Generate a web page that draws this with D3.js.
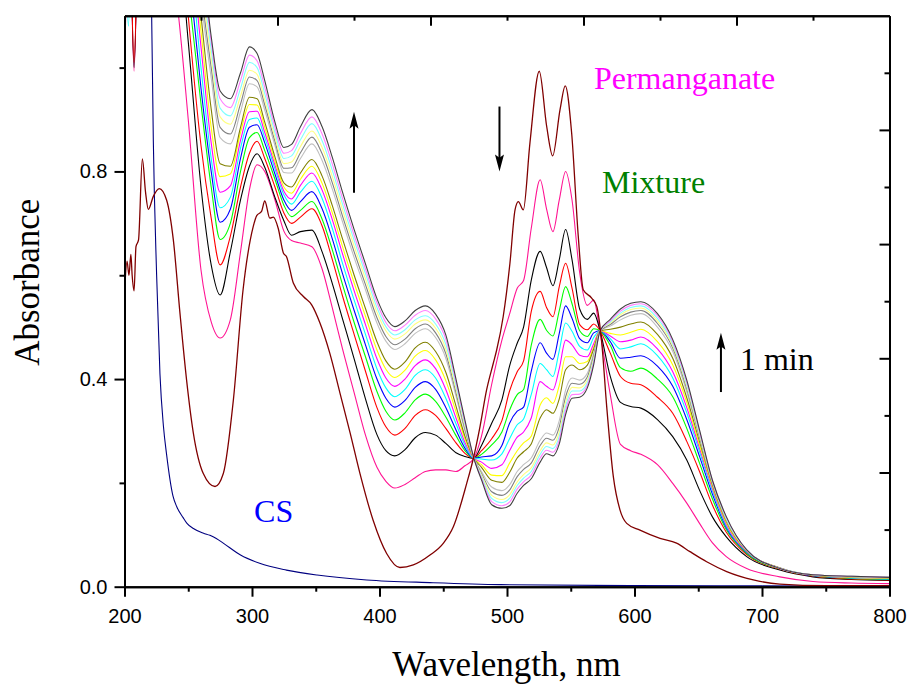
<!DOCTYPE html>
<html><head><meta charset="utf-8">
<script src="https://cdn.jsdelivr.net/npm/d3@7"></script>
<style>body{margin:0;background:#fff}svg{display:block}</style>
</head><body>
<svg id="chart" width="910" height="687"></svg>
<script>
// ---------- DATA ----------
const wavelengths = [
  200, 203, 207.5, 212, 240, 250, 260, 268, 275, 283, 291,
  298, 304, 310, 318, 325, 331, 338, 347,
  355, 363, 371, 380, 389, 398, 405, 412,
  420, 428, 436, 444, 452, 460, 467, 474,
  480, 488, 496, 502, 508, 513, 519, 526,
  531, 536, 541, 546, 551, 557, 563, 568,
  573, 581, 589, 597, 605,
  618, 630, 641, 651, 661, 672,
  688, 714, 740, 770, 800];

const mixPink = [
  1.4, 1.4, 0.993, 1.4, 1.15, 0.90, 0.61, 0.51, 0.479, 0.514, 0.645,
  0.765, 0.813, 0.80, 0.745, 0.685, 0.667, 0.662, 0.655,
  0.612, 0.537, 0.458, 0.375, 0.292, 0.23, 0.203, 0.19,
  0.197, 0.21, 0.222, 0.225, 0.225, 0.222, 0.233, 0.2475,
  0.29, 0.39, 0.475, 0.525, 0.575, 0.59, 0.69, 0.784,
  0.728, 0.684, 0.745, 0.80, 0.745, 0.605, 0.542, 0.552,
  0.49, 0.37, 0.274, 0.262, 0.255,
  0.235, 0.199, 0.161, 0.122, 0.085, 0.058,
  0.035, 0.019, 0.01, 0.007, 0.006];
const mixBlack = [
  1.4, 1.4, 1.0, 1.4, 1.3, 1.05, 0.77, 0.62, 0.562, 0.645, 0.745,
  0.81, 0.834, 0.808, 0.75, 0.705, 0.677, 0.684, 0.687,
  0.645, 0.584, 0.516, 0.44, 0.362, 0.293, 0.262, 0.252,
  0.264, 0.287, 0.297, 0.292, 0.276, 0.258, 0.251, 0.2475,
  0.272, 0.315, 0.36, 0.425, 0.469, 0.50, 0.59, 0.646,
  0.615, 0.58, 0.63, 0.688, 0.63, 0.535, 0.515, 0.527,
  0.493, 0.405, 0.355, 0.347, 0.344,
  0.322, 0.289, 0.244, 0.186, 0.135, 0.096,
  0.058, 0.032, 0.019, 0.014, 0.012];
const mixRed = [
  0.89, 1.4, 1.01, 1.4, 1.4, 1.10, 0.85, 0.71, 0.62, 0.675, 0.77,
  0.835, 0.858, 0.825, 0.77, 0.72, 0.70, 0.712, 0.728,
  0.695, 0.63, 0.56, 0.487, 0.415, 0.345, 0.308, 0.292,
  0.305, 0.33, 0.341, 0.33, 0.305, 0.277, 0.257, 0.2475,
  0.262, 0.285, 0.32, 0.377, 0.414, 0.435, 0.53, 0.569,
  0.538, 0.52, 0.578, 0.623, 0.575, 0.505, 0.495, 0.506,
  0.493, 0.45, 0.405, 0.392, 0.389,
  0.365, 0.334, 0.28, 0.222, 0.158, 0.105,
  0.062, 0.034, 0.02, 0.015, 0.013];
const mixGreen = [
  1.4, 1.4, 1.4, 1.4, 1.4, 1.15, 0.93, 0.77, 0.669, 0.70, 0.80,
  0.865, 0.875, 0.84, 0.785, 0.735, 0.713, 0.725, 0.742,
  0.708, 0.649, 0.582, 0.51, 0.443, 0.376, 0.338, 0.321,
  0.335, 0.36, 0.371, 0.357, 0.327, 0.291, 0.262, 0.2475,
  0.255, 0.273, 0.298, 0.34, 0.37, 0.38, 0.465, 0.515,
  0.494, 0.483, 0.532, 0.578, 0.545, 0.493, 0.482, 0.497,
  0.493, 0.465, 0.422, 0.415, 0.421,
  0.40, 0.366, 0.305, 0.238, 0.17, 0.11,
  0.064, 0.035, 0.021, 0.016, 0.014];
const mixBlue = [
  1.4, 1.4, 1.4, 1.4, 1.4, 1.2, 0.96, 0.80, 0.702, 0.727, 0.825,
  0.885, 0.89, 0.855, 0.795, 0.745, 0.725, 0.742, 0.761,
  0.728, 0.67, 0.603, 0.533, 0.466, 0.40, 0.363, 0.346,
  0.359, 0.384, 0.395, 0.38, 0.345, 0.302, 0.267, 0.2475,
  0.25, 0.252, 0.272, 0.315, 0.338, 0.346, 0.415, 0.47,
  0.45, 0.438, 0.488, 0.541, 0.517, 0.478, 0.47, 0.489,
  0.493, 0.472, 0.44, 0.442, 0.445,
  0.425, 0.386, 0.322, 0.251, 0.179, 0.114,
  0.066, 0.036, 0.021, 0.017, 0.015];
const mixCyan = [
  1.4, 1.08, 1.4, 1.4, 1.4, 1.25, 1.0, 0.825, 0.73, 0.75, 0.845,
  0.9, 0.903, 0.865, 0.805, 0.755, 0.737, 0.76, 0.781,
  0.748, 0.69, 0.623, 0.553, 0.486, 0.42, 0.383, 0.366,
  0.38, 0.407, 0.418, 0.402, 0.363, 0.314, 0.273, 0.2475,
  0.246, 0.244, 0.256, 0.285, 0.312, 0.323, 0.37, 0.43,
  0.418, 0.405, 0.455, 0.508, 0.492, 0.463, 0.456, 0.48,
  0.493, 0.478, 0.458, 0.462, 0.468,
  0.445, 0.402, 0.335, 0.26, 0.185, 0.117,
  0.067, 0.036, 0.022, 0.017, 0.015];
const mixMagenta = [
  0.9, 1.4, 1.4, 1.4, 1.4, 1.28, 1.04, 0.855, 0.76, 0.772, 0.86,
  0.915, 0.916, 0.875, 0.812, 0.762, 0.747, 0.773, 0.797,
  0.764, 0.707, 0.641, 0.571, 0.505, 0.439, 0.402, 0.386,
  0.40, 0.426, 0.437, 0.42, 0.38, 0.325, 0.278, 0.2475,
  0.24, 0.228, 0.235, 0.262, 0.288, 0.298, 0.325, 0.395,
  0.386, 0.379, 0.42, 0.475, 0.466, 0.446, 0.443, 0.468,
  0.493, 0.483, 0.472, 0.475, 0.481,
  0.458, 0.414, 0.345, 0.267, 0.19, 0.12,
  0.068, 0.036, 0.022, 0.018, 0.016];
const mixYellow = [
  1.08, 1.4, 1.4, 1.4, 1.4, 1.3, 1.07, 0.885, 0.79, 0.795, 0.875,
  0.929, 0.928, 0.885, 0.82, 0.77, 0.758, 0.785, 0.81,
  0.777, 0.72, 0.655, 0.586, 0.521, 0.456, 0.419, 0.403,
  0.417, 0.444, 0.455, 0.437, 0.397, 0.337, 0.285, 0.2475,
  0.235, 0.215, 0.214, 0.238, 0.262, 0.277, 0.29, 0.35,
  0.364, 0.353, 0.388, 0.443, 0.443, 0.43, 0.434, 0.462,
  0.493, 0.488, 0.485, 0.49, 0.496,
  0.472, 0.427, 0.355, 0.273, 0.194, 0.123,
  0.069, 0.036, 0.022, 0.018, 0.016];
const mixOlive = [
  1.4, 1.4, 1.4, 1.4, 1.4, 1.33, 1.1, 0.92, 0.815, 0.81, 0.885,
  0.943, 0.94, 0.895, 0.828, 0.778, 0.77, 0.797, 0.823,
  0.791, 0.734, 0.67, 0.601, 0.536, 0.472, 0.435, 0.419,
  0.433, 0.46, 0.471, 0.453, 0.413, 0.348, 0.29, 0.2475,
  0.23, 0.205, 0.201, 0.22, 0.248, 0.26, 0.275, 0.325,
  0.341, 0.334, 0.362, 0.418, 0.427, 0.418, 0.427, 0.458,
  0.493, 0.496, 0.50, 0.506, 0.51,
  0.486, 0.44, 0.364, 0.28, 0.197, 0.126,
  0.069, 0.036, 0.022, 0.019, 0.017];
const mixSilver = [
  1.4, 1.4, 1.4, 1.4, 1.4, 1.36, 1.13, 0.98, 0.865, 0.853, 0.915,
  0.969, 0.963, 0.918, 0.85, 0.798, 0.797, 0.825, 0.853,
  0.821, 0.766, 0.703, 0.635, 0.572, 0.508, 0.473, 0.457,
  0.468, 0.488, 0.497, 0.48, 0.44, 0.367, 0.30, 0.2475,
  0.222, 0.192, 0.185, 0.196, 0.222, 0.235, 0.248, 0.282,
  0.296, 0.292, 0.32, 0.379, 0.402, 0.398, 0.411, 0.45,
  0.493, 0.502, 0.514, 0.523, 0.526,
  0.50, 0.453, 0.375, 0.286, 0.20, 0.128,
  0.07, 0.036, 0.023, 0.019, 0.017];
const mixGray = [
  1.4, 1.4, 1.4, 1.4, 1.4, 1.38, 1.15, 1.0, 0.885, 0.872, 0.93,
  0.982, 0.975, 0.928, 0.858, 0.806, 0.807, 0.836, 0.866,
  0.834, 0.778, 0.714, 0.646, 0.582, 0.518, 0.482, 0.466,
  0.477, 0.497, 0.506, 0.489, 0.449, 0.374, 0.304, 0.2475,
  0.218, 0.183, 0.176, 0.186, 0.212, 0.226, 0.238, 0.272,
  0.286, 0.282, 0.308, 0.366, 0.392, 0.39, 0.404, 0.445,
  0.493, 0.505, 0.52, 0.529, 0.532,
  0.507, 0.46, 0.381, 0.289, 0.201, 0.13,
  0.07, 0.035, 0.023, 0.02, 0.018];
const mixLtYellow = [
  1.4, 1.4, 1.4, 1.4, 1.4, 1.4, 1.17, 1.02, 0.905, 0.891, 0.945,
  0.995, 0.987, 0.938, 0.866, 0.815, 0.818, 0.848, 0.878,
  0.846, 0.79, 0.726, 0.657, 0.593, 0.529, 0.493, 0.477,
  0.487, 0.506, 0.514, 0.498, 0.458, 0.381, 0.309, 0.2475,
  0.215, 0.176, 0.168, 0.177, 0.202, 0.216, 0.229, 0.262,
  0.277, 0.273, 0.298, 0.356, 0.384, 0.383, 0.398, 0.44,
  0.493, 0.508, 0.524, 0.534, 0.537,
  0.512, 0.464, 0.386, 0.292, 0.203, 0.131,
  0.07, 0.035, 0.023, 0.02, 0.018];
const mixLtCyan = [
  1.4, 1.4, 1.4, 1.4, 1.4, 1.4, 1.19, 1.035, 0.922, 0.907, 0.96,
  1.01, 1.0, 0.95, 0.875, 0.825, 0.83, 0.861, 0.892,
  0.859, 0.802, 0.737, 0.668, 0.603, 0.538, 0.501, 0.485,
  0.495, 0.514, 0.522, 0.506, 0.467, 0.388, 0.313, 0.2475,
  0.212, 0.17, 0.162, 0.17, 0.195, 0.209, 0.222, 0.255,
  0.27, 0.266, 0.29, 0.348, 0.377, 0.377, 0.393, 0.436,
  0.493, 0.51, 0.527, 0.538, 0.541,
  0.517, 0.468, 0.39, 0.296, 0.204, 0.132,
  0.071, 0.035, 0.023, 0.02, 0.018];
const mixLtMagenta = [
  1.4, 1.4, 1.4, 1.4, 1.4, 1.4, 1.21, 1.05, 0.94, 0.923, 0.975,
  1.024, 1.013, 0.962, 0.885, 0.835, 0.84, 0.873, 0.905,
  0.872, 0.814, 0.748, 0.678, 0.612, 0.547, 0.509, 0.493,
  0.504, 0.523, 0.532, 0.516, 0.477, 0.394, 0.317, 0.2475,
  0.209, 0.164, 0.156, 0.163, 0.188, 0.202, 0.215, 0.248,
  0.263, 0.259, 0.283, 0.34, 0.37, 0.371, 0.388, 0.432,
  0.493, 0.512, 0.531, 0.542, 0.545,
  0.522, 0.472, 0.394, 0.299, 0.205, 0.134,
  0.071, 0.035, 0.023, 0.02, 0.018];
const mixDkGray = [
  1.4, 1.4, 1.4, 1.4, 1.4, 1.4, 1.23, 1.06, 0.955, 0.94, 0.99,
  1.04, 1.027, 0.975, 0.895, 0.846, 0.852, 0.886, 0.919,
  0.886, 0.827, 0.76, 0.689, 0.622, 0.555, 0.518, 0.501,
  0.512, 0.532, 0.541, 0.525, 0.485, 0.40, 0.321, 0.2475,
  0.206, 0.158, 0.151, 0.156, 0.18, 0.195, 0.208, 0.24,
  0.256, 0.252, 0.275, 0.332, 0.363, 0.365, 0.383, 0.428,
  0.493, 0.515, 0.535, 0.546, 0.549,
  0.526, 0.476, 0.398, 0.302, 0.206, 0.135,
  0.071, 0.035, 0.023, 0.02, 0.018];

const mixtureSeries = [mixPink, mixBlack, mixRed, mixGreen, mixBlue, mixCyan, mixMagenta,
  mixYellow, mixOlive, mixSilver, mixGray, mixLtYellow, mixLtCyan, mixLtMagenta, mixDkGray];
const mixtureColors = ["#FF1493", "#000000", "#FF0000", "#00FF00", "#0000FF", "#00FFFF", "#FF00FF",
  "#FFFF00", "#808000", "#C0C0C0", "#808080", "#FFFF80", "#80FFFF", "#FF80FF", "#404040"];

const permWl = [200, 202, 203.5, 205, 206, 207.5, 209, 211, 214, 216.5,
  218.7, 222.6, 227.3, 233, 238.3, 243.5, 248.7, 254, 261.8, 271,
  277.5, 285.4, 293, 301, 303.7, 307.5, 310, 314, 316.8, 320.6,
  324.6, 327, 332.4, 340.3, 346.8, 353.3, 361, 369, 377, 384.7,
  395, 405.6, 416, 426.5, 439.6, 450, 458, 468.4, 473.6, 478.8,
  484, 489.2, 491.9, 497, 502.3, 506.3, 508.9, 512.8, 518, 525.3,
  531.1, 535.8, 541.6, 545.7, 550.7, 555.9, 559.8, 566.4, 570.4, 574.3,
  578.2, 583.4, 588.6, 593.9, 604.3, 620, 633, 643.5, 656.6, 672.3,
  693.2, 714, 750, 800];
const permAbs = [0.565, 0.627, 0.60, 0.64, 0.60, 0.57, 0.655, 0.668, 0.824, 0.76,
  0.727, 0.752, 0.767, 0.745, 0.668, 0.527, 0.398, 0.296, 0.218, 0.193,
  0.218, 0.36, 0.572, 0.694, 0.715, 0.723, 0.743, 0.71, 0.712, 0.69,
  0.643, 0.636, 0.585, 0.559, 0.543, 0.508, 0.45, 0.373, 0.296, 0.218,
  0.128, 0.064, 0.037, 0.042, 0.061, 0.0835, 0.116, 0.199, 0.247, 0.308,
  0.379, 0.43, 0.456, 0.52, 0.623, 0.726, 0.742, 0.726, 0.855, 0.993,
  0.887, 0.83, 0.919, 0.965, 0.874, 0.675, 0.572, 0.556, 0.54, 0.47,
  0.347, 0.212, 0.148, 0.122, 0.109, 0.093, 0.084, 0.0675, 0.048, 0.029,
  0.013, 0.005, 0.002, 0.002];

const csWl = [200, 212, 221.3, 222.6, 225.2, 227.8, 230.5, 233, 238, 241,
  246, 249, 254, 262, 267, 272, 278, 291, 306, 327,
  351, 390, 442, 495, 600, 700, 800];
const csAbs = [2.5, 1.7, 1.1, 0.86, 0.6, 0.41, 0.31, 0.255, 0.175, 0.154,
  0.133, 0.122, 0.112, 0.103, 0.099, 0.093, 0.083, 0.061, 0.045, 0.032,
  0.0225, 0.013, 0.0077, 0.004, 0.002, 0.0015, 0.001];

const xMajorTicks = [200, 300, 400, 500, 600, 700, 800];
const xMinorTicks = [250, 350, 450, 550, 650, 750];
const yMajorTicks = [0.0, 0.4, 0.8];
const yMinorTicks = [0.2, 0.6, 1.0];

// ---------- LAYOUT ----------
const svg = d3.select("#chart");
const L = 124.5, R = 889.5, T = 15.7, B = 586.7;
const x = d3.scaleLinear().domain([200, 800]).range([L, R]);
const y = d3.scaleLinear().domain([0, 1.1]).range([B, T]);

svg.append("defs").append("clipPath").attr("id", "plotclip")
  .append("rect").attr("x", L).attr("y", T).attr("width", R - L).attr("height", B - T);

const line = d3.line().x(d => x(d[0])).y(d => y(d[1])).curve(d3.curveMonotoneX);
const plot = svg.append("g").attr("clip-path", "url(#plotclip)");

function pairs(ws, vs) { const n = Math.min(ws.length, vs.length); return d3.range(n).map(i => [ws[i], vs[i]]); }

plot.append("path").datum(pairs(csWl, csAbs)).attr("d", line)
  .attr("fill", "none").attr("stroke", "#000080").attr("stroke-width", 1.1);

mixtureSeries.forEach((s, i) => {
  plot.append("path").datum(pairs(wavelengths, s)).attr("d", line)
    .attr("fill", "none").attr("stroke", mixtureColors[i]).attr("stroke-width", 1.1);
});

plot.append("path").datum(pairs(permWl, permAbs)).attr("d", line)
  .attr("fill", "none").attr("stroke", "#800000").attr("stroke-width", 1.3);

// ---------- AXES ----------
const axisFont = "'Liberation Sans', Arial, sans-serif";
function styleAxis(g) {
  g.select(".domain").attr("stroke", "#000").attr("stroke-width", 2);
  g.selectAll(".tick line").attr("stroke", "#000").attr("stroke-width", 2);
  g.selectAll("text").attr("font-family", axisFont).attr("font-size", 20).attr("fill", "#000");
}
svg.append("g").attr("transform", `translate(0,${B})`)
  .call(d3.axisBottom(x).tickValues(xMajorTicks).tickSize(10).tickSizeOuter(0).tickPadding(12).tickFormat(d3.format("d")))
  .call(styleAxis);
svg.append("g").attr("transform", `translate(0,${B})`)
  .call(d3.axisBottom(x).tickValues(xMinorTicks).tickSize(5).tickSizeOuter(0).tickFormat(""))
  .call(styleAxis);
svg.append("g").attr("transform", `translate(${L},0)`)
  .call(d3.axisLeft(y).tickValues(yMajorTicks).tickSize(10).tickSizeOuter(0).tickPadding(7).tickFormat(d3.format(".1f")))
  .call(styleAxis);
svg.append("g").attr("transform", `translate(${L},0)`)
  .call(d3.axisLeft(y).tickValues(yMinorTicks).tickSize(5).tickSizeOuter(0).tickFormat(""))
  .call(styleAxis);

// top and right frame axes (5 divisions, inward ticks)
const xd = x.domain(), yd = y.domain();
const topMajor = d3.range(1, 5).map(k => xd[0] + k * (xd[1] - xd[0]) / 5);
const topMinor = d3.range(0, 5).map(k => xd[0] + (k + 0.5) * (xd[1] - xd[0]) / 5);
const rightMajor = d3.range(1, 5).map(k => yd[0] + k * (yd[1] - yd[0]) / 5);
const rightMinor = d3.range(0, 5).map(k => yd[0] + (k + 0.5) * (yd[1] - yd[0]) / 5);
svg.append("g").attr("transform", `translate(0,${T})`)
  .call(d3.axisTop(x).tickValues(topMajor).tickSize(-10).tickSizeOuter(0).tickFormat(""))
  .call(styleAxis);
svg.append("g").attr("transform", `translate(0,${T})`)
  .call(d3.axisTop(x).tickValues(topMinor).tickSize(-5).tickSizeOuter(0).tickFormat(""))
  .call(styleAxis);
svg.append("g").attr("transform", `translate(${R},0)`)
  .call(d3.axisRight(y).tickValues(rightMajor).tickSize(-10).tickSizeOuter(0).tickFormat(""))
  .call(styleAxis);
svg.append("g").attr("transform", `translate(${R},0)`)
  .call(d3.axisRight(y).tickValues(rightMinor).tickSize(-5).tickSizeOuter(0).tickFormat(""))
  .call(styleAxis);

// ---------- TITLES ----------
const serif = "'Liberation Serif', 'Times New Roman', serif";
svg.append("text").attr("x", (L + R) / 2 - 0.5).attr("y", 676)
  .attr("text-anchor", "middle").attr("font-family", serif).attr("font-size", 35)
  .text("Wavelength, nm");
svg.append("text").attr("transform", `translate(39,${(T + B) / 2 - 19}) rotate(-90)`)
  .attr("text-anchor", "middle").attr("font-family", serif).attr("font-size", 35)
  .text("Absorbance");

// ---------- ANNOTATIONS (data coordinates) ----------
const labels = [
  {text: "Permanganate", w: 568.2, a: 0.959, color: "#FF00FF"},
  {text: "Mixture", w: 574.5, a: 0.759, color: "#008000"},
  {text: "CS", w: 301.6, a: 0.125, color: "#0000FF"},
  {text: "1 min", w: 682.7, a: 0.418, color: "#000000"}
];
labels.forEach(l => {
  svg.append("text").attr("x", x(l.w)).attr("y", y(l.a))
    .attr("font-family", serif).attr("font-size", 32).attr("fill", l.color).text(l.text);
});

const arrows = [
  {w: 380, from: 0.759, to: 0.915},
  {w: 494.1, from: 0.925, to: 0.80},
  {w: 667.8, from: 0.375, to: 0.489}
];
arrows.forEach(a => {
  const px = x(a.w), y0 = y(a.from), y1 = y(a.to);
  const dir = y1 < y0 ? 1 : -1; // 1 = pointing up
  const headLen = 17, headW = 4.5;
  svg.append("line").attr("x1", px).attr("x2", px).attr("y1", y0).attr("y2", y1 + dir * headLen * 0.6)
    .attr("stroke", "#000").attr("stroke-width", 2);
  svg.append("path")
    .attr("d", `M${px},${y1} L${px - headW},${y1 + dir * headLen} L${px},${y1 + dir * headLen * 0.8} L${px + headW},${y1 + dir * headLen} Z`)
    .attr("fill", "#000");
});
</script>
</body></html>
